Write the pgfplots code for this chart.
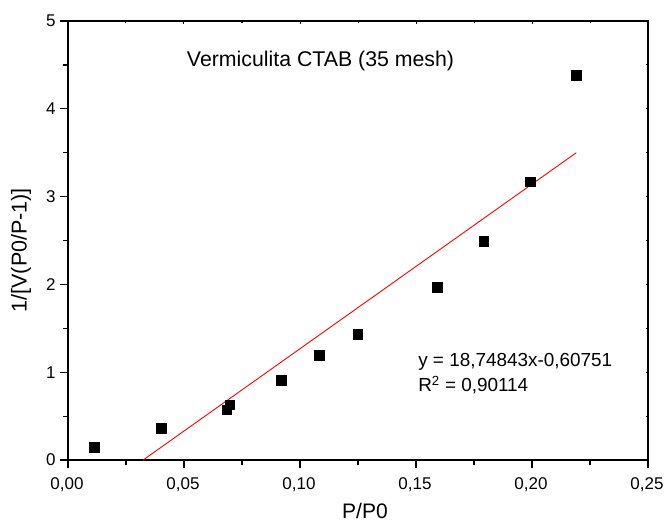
\documentclass[border=0pt]{standalone}
\usepackage{fontspec}
\setmainfont{Liberation Sans}
\usepackage{pgfplots}
\pgfplotsset{compat=1.18}

% BET linearisation data: P/P0 against 1/[V(P0/P-1)]
\begin{document}
\begin{tikzpicture}
\useasboundingbox (-68pt,-63pt) rectangle (599pt,460pt);
\begin{axis}[
  at={(0pt,0pt)}, anchor=south west,
  scale only axis, width=580pt, height=439pt,
  xmin=0, xmax=0.25, ymin=0, ymax=5,
  xtick={0,0.05,0.10,0.15,0.20,0.25},
  ytick={0,1,2,3,4,5},
  minor tick num=1,
  tick align=outside, tick pos=left,
  major tick length=8pt, minor tick length=4.5pt,
  every tick/.style={black, line width=1.2pt},
  axis line style={line width=1.5pt},
  /pgf/number format/assume math mode=true,
  x tick label style={font=\fontsize{17}{20}\selectfont, yshift=-6pt, xshift=-1pt,
    /pgf/number format/.cd, fixed, fixed zerofill, precision=2, use comma},
  y tick label style={font=\fontsize{17}{20}\selectfont, xshift=-1pt},
  xlabel={P/P0}, ylabel={1/[V(P0/P-1)]},
  xlabel style={font=\fontsize{21}{25}\selectfont, at={(axis description cs:0.512,-0.117)}, anchor=center},
  ylabel style={font=\fontsize{21.5}{25}\selectfont, at={(axis description cs:-0.081,0.478)}, anchor=center},
  clip=true,
]
\addplot[only marks, mark=square*, mark size=4.75pt, black] coordinates {
  (0.0112,0.148)
  (0.0401,0.360)
  (0.0685,0.573)
  (0.0698,0.630)
  (0.0919,0.908)
  (0.1083,1.192)
  (0.1249,1.435)
  (0.1592,1.967)
  (0.1792,2.491)
  (0.1993,3.170)
  (0.2190,4.380)
};
% linear fit y = 18.74843x - 0.60751
\addplot[red, line width=0.9pt] coordinates {
  (0.0324,0.0)
  (0.2191,3.5001)
};
\node[anchor=base west, font=\fontsize{21.3}{25}\selectfont, inner sep=0pt]
  at (axis cs:0.0512,4.478) {Vermiculita CTAB (35 mesh)};
\node[anchor=base west, font=\fontsize{18.9}{22}\selectfont, inner sep=0pt]
  at (axis cs:0.1509,1.06) {y = 18,74843x-0,60751};
\node[anchor=base west, font=\fontsize{18.9}{22}\selectfont, inner sep=0pt]
  at (axis cs:0.1509,0.775) {R\textsuperscript{2} = 0,90114};
\end{axis}
% short inward ticks on the top and right edges
\begin{axis}[
  at={(0pt,0pt)}, anchor=south west,
  scale only axis, width=580pt, height=439pt,
  xmin=0, xmax=0.25, ymin=0, ymax=5,
  xtick={0,0.05,0.10,0.15,0.20,0.25},
  ytick={0,1,2,3,4,5},
  minor tick num=1,
  tick align=inside, tick pos=right,
  major tick length=2.5pt, minor tick length=2pt,
  every tick/.style={black, line width=1pt},
  axis line style={draw=none},
  xticklabels={}, yticklabels={},
]
\end{axis}
\end{tikzpicture}
\end{document}
